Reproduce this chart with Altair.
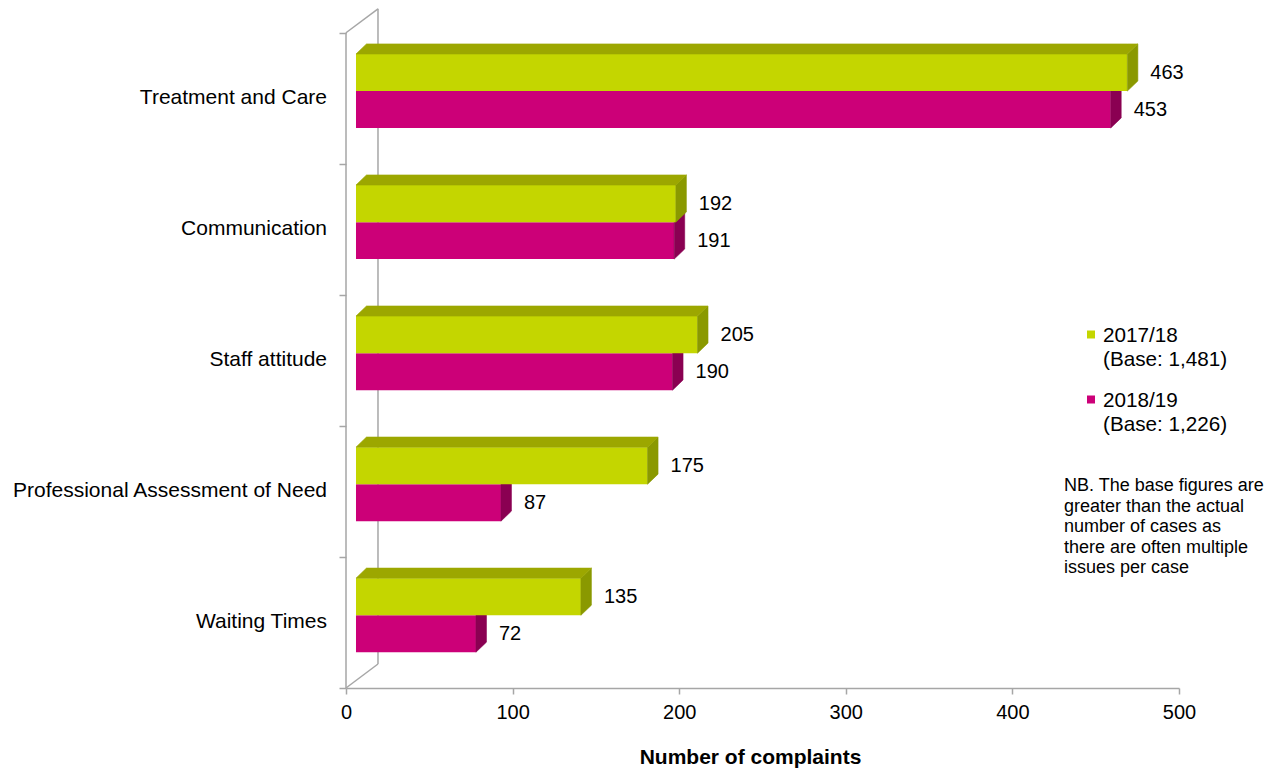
import altair as alt
import pandas as pd

# ---------------- data ----------------
categories = ["Treatment and Care", "Communication", "Staff attitude",
              "Professional Assessment of Need", "Waiting Times"]
values_1718 = [463, 192, 205, 175, 135]
values_1819 = [453, 191, 190, 87, 72]
series = ["2017/18", "2018/19"]
bases = ["(Base: 1,481)", "(Base: 1,226)"]
x_ticks = [0, 100, 200, 300, 400, 500]
note_lines = ["NB. The base figures are", "greater than the actual",
              "number of cases as", "there are often multiple", "issues per case"]

# ---------------- styling / geometry ----------------
FONT = "Liberation Sans"
GREEN, GREEN_TOP, GREEN_SIDE = "#C4D600", "#9CA700", "#8A9900"
MAG, MAG_SIDE = "#CC0078", "#8A0052"
GREY = "#A6A6A6"
W, H = 833, 688
Y_MAX = 5.25
FRONT_SHIFT = 6.0          # bar front face offset (value units)
BAR_DX, BAR_DY = 6.3, 0.077   # bar depth (value units, category units)
WALL_DX, WALL_DY = 19.2, 0.183
G_TOP, G_BOT = 0.338, 0.055
M_TOP, M_BOT = 0.055, -0.227

xscale = alt.Scale(domain=[0, 500], nice=False, zero=True)
yscale = alt.Scale(domain=[0, Y_MAX], nice=False, zero=True)
X_AX = alt.Axis(values=x_ticks, title="Number of complaints", grid=False,
                domainColor=GREY, domainWidth=1.5, tickColor=GREY, tickWidth=1.5,
                tickSize=6, labelFont=FONT, labelFontSize=20, labelColor="#000",
                labelPadding=8, labelFlush=False, labelOverlap=False,
                titleFont=FONT, titleFontSize=21,
                titleFontWeight="bold", titleColor="#000", titlePadding=24,
                titleX=404)
Y_AX = alt.Axis(values=[0, 1, 2, 3, 4, 5], labels=False, domain=False, grid=False,
                tickSize=7, tickColor=GREY, tickWidth=1.5, title=None)


def X(f):
    return alt.X(f, type="quantitative", scale=xscale, axis=X_AX)


def Y(f):
    return alt.Y(f, type="quantitative", scale=yscale, axis=Y_AX, stack=None)


# ---------------- build tables ----------------
front, top_g, side_g, side_m, labels, cats = [], [], [], [], [], []
for i, cat in enumerate(categories):
    c = 4.5 - i
    cats.append({"cat": cat, "c": c})
    for s, vals, yt, yb in [(series[1], values_1819, M_TOP, M_BOT),
                            (series[0], values_1718, G_TOP, G_BOT)]:
        v = vals[i]
        x0, x1 = FRONT_SHIFT, FRONT_SHIFT + v
        front.append({"s": s, "x0": x0, "x1": x1, "y0": c + yb, "y1": c + yt})
        labels.append({"x": x1, "y": c + (yt + yb) / 2, "t": str(v)})
        side = [{"id": f"b{i}", "x": x1, "yt": c + yt, "yb": c + yb},
                {"id": f"b{i}", "x": x1 + BAR_DX, "yt": c + yt + BAR_DY,
                 "yb": c + yb + BAR_DY}]
        if s == series[0]:
            side_g += side
            ty = c + yt
            top_g += [
                {"id": f"b{i}", "x": x0, "yt": ty, "yb": ty},
                {"id": f"b{i}", "x": x0 + BAR_DX, "yt": ty + BAR_DY, "yb": ty},
                {"id": f"b{i}", "x": x1, "yt": ty + BAR_DY, "yb": ty},
                {"id": f"b{i}", "x": x1 + BAR_DX, "yt": ty + BAR_DY, "yb": ty + BAR_DY},
            ]
        else:
            side_m += side

front = pd.DataFrame(front)
front_m = front[front.s == series[1]]
front_g = front[front.s == series[0]]

walls = pd.DataFrame([
    {"x": 0, "y": 0, "x2": 0, "y2": 5},
    {"x": WALL_DX, "y": WALL_DY, "x2": WALL_DX, "y2": 5 + WALL_DY},
    {"x": 0, "y": 5, "x2": WALL_DX, "y2": 5 + WALL_DY},
    {"x": 0, "y": 0, "x2": WALL_DX, "y2": WALL_DY},
])

wall_layer = alt.Chart(walls).mark_rule(color=GREY, strokeWidth=1.5).encode(
    x=X("x"), y=Y("y"), x2="x2:Q", y2="y2:Q")


def rect_layer(df, color):
    return alt.Chart(df).mark_rect(color=color).encode(
        x=X("x0"), x2="x1:Q", y=Y("y0"), y2="y1:Q")


def area_layer(rows, color):
    return alt.Chart(pd.DataFrame(rows)).mark_area(
        color=color, orient="vertical", interpolate="linear",
        stroke=color, strokeWidth=0.6).encode(
        x=X("x"), y=Y("yt"), y2="yb:Q", detail="id:N")


label_layer = alt.Chart(pd.DataFrame(labels)).mark_text(
    align="left", baseline="middle", dx=23, font=FONT, fontSize=20, color="#000"
).encode(x=X("x"), y=Y("y"), text="t:N")

cat_layer = alt.Chart(pd.DataFrame(cats)).mark_text(
    align="right", baseline="middle", font=FONT, fontSize=21, color="#000"
).encode(x=alt.value(-19), y=Y("c"), text="cat:N")

# legend (manual)
leg_sq = pd.DataFrame({"s": series, "py": [334.5 + k * 65 for k in range(2)]})
leg_txt = []
for k, s in enumerate(series):
    leg_txt.append({"t": s, "py": 336 + k * 65})
    leg_txt.append({"t": bases[k], "py": 360 + k * 65})
legend_sq = alt.Chart(leg_sq).mark_square(size=64, opacity=1).encode(
    x=alt.value(745), y=alt.Y("py:Q", scale=None),
    color=alt.Color("s:N", scale=alt.Scale(domain=series, range=[GREEN, MAG]), legend=None))
legend_tx = alt.Chart(pd.DataFrame(leg_txt)).mark_text(
    align="left", baseline="middle", font=FONT, fontSize=20.7, color="#000"
).encode(x=alt.value(757), y=alt.Y("py:Q", scale=None), text="t:N")

note_df = pd.DataFrame({"t": note_lines, "py": [486 + k * 20.5 for k in range(len(note_lines))]})
note_layer = alt.Chart(note_df).mark_text(
    align="left", baseline="middle", font=FONT, fontSize=18, color="#000"
).encode(x=alt.value(718), y=alt.Y("py:Q", scale=None), text="t:N")

chart = alt.layer(
    wall_layer,
    rect_layer(front_m, MAG), area_layer(side_m, MAG_SIDE),
    rect_layer(front_g, GREEN), area_layer(side_g, GREEN_SIDE), area_layer(top_g, GREEN_TOP),
    label_layer, cat_layer, legend_sq, legend_tx, note_layer,
).properties(
    width=W, height=H,
    background="white",
    autosize=alt.AutoSizeParams(type="none"),
    padding={"left": 346, "top": 0, "right": 99, "bottom": 83},
).configure_view(stroke=None, strokeWidth=0)

chart.save("out.html", embed_options={"renderer": "svg", "actions": False})
